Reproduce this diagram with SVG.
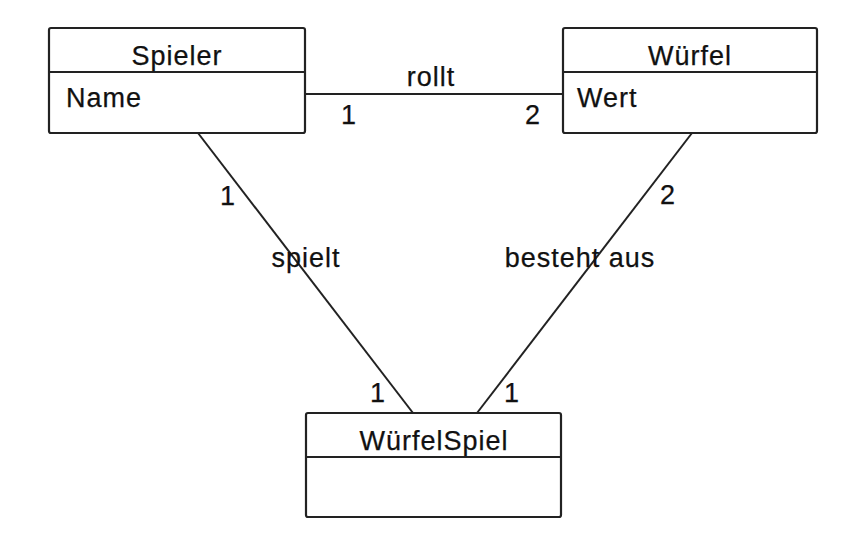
<svg xmlns="http://www.w3.org/2000/svg" width="868" height="559" viewBox="0 0 868 559">
<style>
  .box { fill: #fff; stroke: #222; stroke-width: 2.2; }
  .div { stroke: #222; stroke-width: 2.2; }
  .conn { stroke: #222; stroke-width: 2; fill: none; }
  text { font-family: "Liberation Sans", Arial, sans-serif; font-size: 27px; fill: #111; letter-spacing: 1px; stroke: #111; stroke-width: 0.25px; }
  .c { text-anchor: middle; }
</style>
<rect width="868" height="559" fill="#fff"/>
<g id="connectors">
  <line class="conn" x1="305" y1="94" x2="563" y2="94"/>
  <line class="conn" x1="198" y1="133" x2="413" y2="413"/>
  <line class="conn" x1="692" y1="133" x2="477" y2="413"/>
  <text class="c" x="431" y="86">rollt</text>
  <text class="c" x="349" y="124">1</text>
  <text class="c" x="533" y="124">2</text>
  <text class="c" x="228" y="205">1</text>
  <text class="c" x="668" y="204">2</text>
  <text class="c" x="306" y="267">spielt</text>
  <text class="c" x="580" y="267">besteht aus</text>
  <text class="c" x="378" y="402">1</text>
  <text class="c" x="512" y="402">1</text>
</g>
<g id="spieler">
  <rect class="box" x="49" y="28" width="256" height="105" rx="2"/>
  <line class="div" x1="49" y1="72" x2="305" y2="72"/>
  <text class="c" x="177" y="65">Spieler</text>
  <text x="66" y="107">Name</text>
</g>
<g id="wuerfel">
  <rect class="box" x="563" y="28" width="254" height="105" rx="2"/>
  <line class="div" x1="563" y1="72" x2="817" y2="72"/>
  <text class="c" x="690" y="65">Würfel</text>
  <text x="577" y="107">Wert</text>
</g>
<g id="wuerfelspiel">
  <rect class="box" x="306" y="413" width="255" height="104" rx="2"/>
  <line class="div" x1="306" y1="457" x2="561" y2="457"/>
  <text class="c" x="434" y="450">WürfelSpiel</text>
</g>
</svg>
